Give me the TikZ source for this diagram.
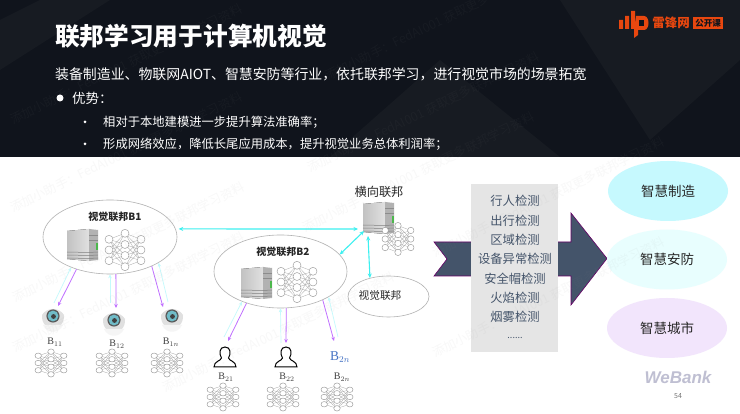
\documentclass[tikz,border=0pt]{standalone}
\usepackage{fontspec}
\setmainfont{Noto Sans CJK SC}
\newfontfamily\serifB{Liberation Serif}
\newfontfamily\bankfont{Liberation Sans}
\usetikzlibrary{positioning, arrows.meta, shapes.geometric}

\definecolor{bandDark}{HTML}{10141C}
\definecolor{bandLight}{HTML}{171B22}
\definecolor{slateArrow}{HTML}{44546A}
\definecolor{flowUp}{HTML}{C4FAFC}
\definecolor{flowDown}{HTML}{C070FF}
\definecolor{flowHub}{HTML}{3CF0F0}
\definecolor{logoRed}{HTML}{E8470F}
\definecolor{goalMake}{HTML}{C6F9FE}
\definecolor{goalSafe}{HTML}{E8FEFE}
\definecolor{goalCity}{HTML}{F2E5FC}
\definecolor{eyeTeal}{HTML}{70BCC8}
\definecolor{labelBlue}{HTML}{4472C4}
\newcommand{\tasktail}{{\fontsize{9}{10}\selectfont ......}}

\tikzset{
    % Network icon
    pics/netz/.style={code={
        \foreach \a in {-10.7,0,10.7} \foreach \b in {-16.7,-5.5,5.5,16.7} {
            \draw[draw=black!35, line width=0.3pt] (-16,\a) -- (0,\b) (16,\a) -- (0,\b);
        }
        \foreach \a in {-10.7,0,10.7} {
            \draw[draw=black!40, fill=white, line width=0.45pt] (-16,\a) circle (4);
            \draw[draw=black!40, fill=white, line width=0.45pt] (16,\a) circle (4);
        }
        \foreach \b in {-16.7,-5.5,5.5,16.7} {
            \draw[draw=black!40, fill=white, line width=0.45pt] (0,\b) circle (4);
        }
    }},
    % Server icon, top left at the origin
    pics/servbox/.style={code={
        \fill[left color=black!24, right color=black!12] (0,2) -- (22,0) -- (22,32) -- (0,30) -- cycle;
        \fill[black!30] (22,0) -- (31,1) -- (31,31) -- (22,32) -- cycle;
        \foreach \y in {23,26,29} {
            \draw[black!50, line width=0.5pt] (0,\y) -- (22,\y+0.5);
            \draw[black!50, line width=0.5pt] (22,\y+0.5) -- (31,\y);
        }
        \draw[black!45, line width=0.5pt] (22,6) -- (31,6) (22,11) -- (31,11);
        \fill[green!60!black!70] (28.5,14) rectangle (31,21);
    }},
    % Dome camera icon
    pics/domecam/.style={code={
        \fill[black!12] (-11,-1) .. controls (-12,17) and (12,17) .. (11,-1) .. controls (6,-9) and (-6,-9) .. (-11,-1) -- cycle;
        \fill[black!4] (-10,9) .. controls (-6,18) and (6,18) .. (10,9) -- cycle;
        \fill[black!65] (0,0) circle (6.6);
        \fill[eyeTeal] (0,0) circle (5.4);
        \fill[black!75] (0.5,0.5) circle (2.4);
    }},
    % Person outline, top centre at the origin
    pics/person/.style={code={
        \draw[black, line width=1pt, fill=white]
            (-3.5,11) .. controls (-4,14) and (-11,14) .. (-11,20) -- (11,20)
            .. controls (11,14) and (4,14) .. (3.5,11)
            .. controls (6,7) and (6,0) .. (0,0)
            .. controls (-6,0) and (-6,7) .. (-3.5,11) -- cycle;
    }}
}

\begin{document}
\begin{tikzpicture}[
    x=1pt, y=-1pt,
    % Federation ellipses
    fed_ellipse/.style={ellipse, draw=black!30, fill=white, line width=0.6pt, inner sep=0pt},
    fed_label/.style={font=\bfseries\fontsize{10}{12}\selectfont, text=black!85},
    % Result ellipses
    goal_ellipse/.style={ellipse, minimum width=120pt, minimum height=60pt, inner sep=0pt,
        font=\fontsize{13.5}{15}\selectfont, text=black!85},
    % Connection styles
    flow_up/.style={-{Stealth[length=4pt,width=3.5pt]}, line width=0.7pt, color=flowUp},
    flow_down/.style={-{Stealth[length=4pt,width=3.5pt]}, line width=0.8pt, color=flowDown},
    flow_hub/.style={{Stealth[length=4.5pt,width=4pt]}-{Stealth[length=4.5pt,width=4pt]}, line width=1.1pt, color=flowHub},
    dev_label/.style={font=\fontsize{10}{12}\selectfont, text=black!75},
    band_line/.style={anchor=west, inner sep=0pt, text=white, font=\fontsize{12.3}{14}\selectfont},
    wm_text/.style={anchor=west, rotate=26, text=black!45, opacity=0.06, font=\fontsize{12.5}{15}\selectfont}
]
    \useasboundingbox (0,0) rectangle (740,414);
    \fill[white] (0,0) rectangle (740,414);

    % --- DARK BAND ---
    \fill[bandDark] (0,0) rectangle (740,157);
    \fill[bandLight] (560,0) -- (740,0) -- (740,60) -- (650,140) -- cycle;
    \fill[bandLight] (330,157) -- (440,60) -- (560,157) -- cycle;
    \fill[bandLight] (0,20) -- (40,0) -- (110,0) -- (0,70) -- cycle;

    \node[band_line, font=\bfseries\fontsize{24.7}{28}\selectfont] (title) at (55,36) {联邦学习用于计算机视觉};
    \node[band_line, font=\fontsize{13.9}{16}\selectfont] (subtitle) at (55,74) {装备制造业、物联网AIOT、智慧安防等行业，依托联邦学习，进行视觉市场的场景拓宽};
    \fill[white] (60,98) circle (3.5);
    \node[band_line, font=\fontsize{13.5}{16}\selectfont] (pros) at (72,98) {优势：};
    \fill[white] (85,122) circle (1.5);
    \node[band_line] (pro1) at (103,122) {相对于本地建模进一步提升算法准确率；};
    \fill[white] (85,144) circle (1.5);
    \node[band_line] (pro2) at (103,144) {形成网络效应，降低长尾应用成本，提升视觉业务总体利润率；};

    % --- LOGO ---
    \fill[logoRed] (619,20) rectangle (623,29) (625,16) rectangle (629,29) (631,11) rectangle (635,29);
    \fill[logoRed] (636,16) -- (644,16) .. controls (650,16) and (650,30) .. (644,30) -- (638,30) -- (638,35) -- (634,38) -- (634,30) -- cycle;
    \fill[bandDark] (639,20) rectangle (644,26);
    \node[text=logoRed, font=\bfseries\fontsize{12.5}{14}\selectfont] (logotext) at (671,23) {雷锋网};
    \node[fill=logoRed, text=bandDark, minimum width=30pt, minimum height=12pt, inner sep=0pt, font=\bfseries\fontsize{8.5}{10}\selectfont] (logobox) at (708,23) {公开课};

    % --- VISION FEDERATIONS ---
    \node[fed_ellipse, minimum width=134pt, minimum height=74pt] (B1) at (110,237) {};
    \node[fed_ellipse, minimum width=133pt, minimum height=73pt] (B2) at (280.5,271.5) {};
    \node[fed_ellipse, minimum width=81pt, minimum height=41pt] (B3) at (388.5,296.5) {};
    \node[fed_label] (B1label) at (115,217) {视觉联邦B1};
    \node[fed_label] (B2label) at (283,252) {视觉联邦B2};
    \node[fed_label, font=\fontsize{10.7}{13}\selectfont] (B3label) at (380,295) {视觉联邦};
    \node[fed_label, font=\fontsize{12.2}{14}\selectfont] (hublabel) at (379,192) {横向联邦};

    \pic at (67,229) {servbox};
    \pic at (241,267) {servbox};
    \pic at (363,202) {servbox};
    \pic at (125,250) {netz};
    \pic at (297,282) {netz};
    \pic[scale=0.8] at (398,239) {netz};

    % --- B1 DEVICES ---
    \pic at (53,316) {domecam};
    \pic at (114,320) {domecam};
    \pic at (172,316) {domecam};
    \node[dev_label] (d11) at (55,342) {\serifB B$_{11}$};
    \node[dev_label] (d12) at (117,344) {\serifB B$_{12}$};
    \node[dev_label] (d1n) at (171,342) {\serifB B$_{1n}$};
    \pic[xscale=0.8, yscale=0.68] at (51,363) {netz};
    \pic[xscale=0.8, yscale=0.68] at (112,363) {netz};
    \pic[xscale=0.8, yscale=0.68] at (167,363) {netz};

    % --- B2 DEVICES ---
    \pic at (225,347) {person};
    \pic at (286,347) {person};
    \node[text=labelBlue, font=\fontsize{13.5}{15}\selectfont] (blue2n) at (340,357) {\serifB B$_{2n}$};
    \node[dev_label] (d21) at (226,377) {\serifB B$_{21}$};
    \node[dev_label] (d22) at (287,377) {\serifB B$_{22}$};
    \node[dev_label] (d2n) at (342,377) {\serifB B$_{2n}$};
    \pic[xscale=0.8, yscale=0.68] at (223,397) {netz};
    \pic[xscale=0.8, yscale=0.68] at (283,397) {netz};
    \pic[xscale=0.8, yscale=0.68] at (337,397) {netz};

    % --- CONNECTIONS ---
    \foreach \n/\x/\y in {u11/54/303, v11/58/306, u12/110/303, v12/116/308, u1n/168/302, v1n/163/307,
                          u21/224/337, v21/228/341, u22/281/343, v22/286/343, u2n/338/337, v2n/334/341,
                          hubA/358/229, hubB/364/231, hubC/368/236} {
        \coordinate (\n) at (\x,\y);
    }
    \draw[flow_up] (u11) -- (B1.218);
    \draw[flow_down] (B1.224) -- (v11);
    \draw[flow_up] (u12) -- (B1.270);
    \draw[flow_down] (B1.279) -- (v12);
    \draw[flow_up] (u1n) -- (B1.332);
    \draw[flow_down] (B1.325) -- (v1n);
    \draw[flow_up] (u21) -- (B2.218);
    \draw[flow_down] (B2.223) -- (v21);
    \draw[flow_up] (u22) -- (B2.270);
    \draw[flow_down] (B2.279) -- (v22);
    \draw[flow_up] (u2n) -- (B2.332);
    \draw[flow_down] (B2.326) -- (v2n);
    \draw[flow_hub, shorten <=3pt] (B1.7) -- (hubA);
    \draw[flow_hub] (B2.16) -- (hubB);
    \draw[flow_hub] (hubC) -- (B3.135);

    % --- BIG ARROW AND TASK LIST ---
    \draw[fill=slateArrow, draw=violet!80!black, line width=0.6pt]
        (434,242) -- (571,242) -- (571,213) -- (607,258.5) -- (571,305) -- (571,276) -- (434,276) -- (447,259) -- cycle;
    \node[fill=black!10, minimum width=87pt, minimum height=168pt, inner sep=0pt] (tasks) at (514.5,268) {};
    \foreach \t/\y in {行人检测/201, 出行检测/221, 区域检测/240, 设备异常检测/259, 安全帽检测/279, 火焰检测/298, 烟雾检测/317, \tasktail/338} {
        \node[text=slateArrow, font=\fontsize{12.3}{14}\selectfont] (task\y) at (515,\y) {\t};
    }

    % --- RESULT ELLIPSES ---
    \node[goal_ellipse, fill=goalMake] (goal1) at (668,191) {智慧制造};
    \node[goal_ellipse, fill=goalSafe] (goal2) at (667,259.5) {智慧安防};
    \node[goal_ellipse, fill=goalCity] (goal3) at (667,328) {智慧城市};

    % --- FOOTER ---
    \node[text=blue!30!black!25, font=\bankfont\bfseries\itshape\fontsize{17}{19}\selectfont] (bank) at (678,377) {WeBank};
    \node[text=black!55, font=\fontsize{7}{9}\selectfont] (pagenum) at (678,396) {54};

    % --- WATERMARK ---
    \foreach \x/\y [count=\i] in {8/122, 8/210, 10/300, 10/350, 160/390, 305/170, 323/78, 300/230, 430/255, 430/355} {
        \node[wm_text] (wm\i) at (\x,\y) {添加小助手：FedAI001 获取更多联邦学习资料};
    }
\end{tikzpicture}
\end{document}
